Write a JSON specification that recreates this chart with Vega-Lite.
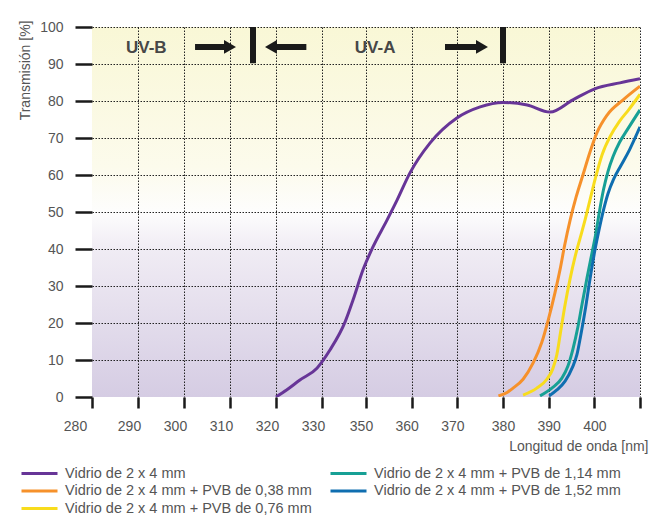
{
  "$schema": "https://vega.github.io/schema/vega-lite/v6.json",
  "width": 548,
  "height": 370,
  "autosize": {"type": "none"},
  "padding": {"left": 92, "top": 27, "right": 13, "bottom": 122},
  "background": "white",
  "view": {
    "stroke": null,
    "fill": {
      "gradient": "linear",
      "x1": 0, "y1": 0, "x2": 0, "y2": 1,
      "stops": [
        {"offset": 0, "color": "#f9f7d6"},
        {"offset": 0.38, "color": "#fcfbec"},
        {"offset": 0.5, "color": "#fdfdfd"},
        {"offset": 0.6, "color": "#f0ecf4"},
        {"offset": 1, "color": "#d5cce3"}
      ]
    }
  },
  "config": {
    "font": "Liberation Sans",
    "axis": {
      "labelFont": "Liberation Sans",
      "labelFontSize": 14,
      "labelColor": "#555555",
      "labelOverlap": false,
      "labelFlush": false,
      "titleFont": "Liberation Sans",
      "titleFontSize": 14,
      "titleFontWeight": "normal",
      "titleColor": "#555555",
      "domain": false,
      "tickColor": "#1a1a1a",
      "tickWidth": 2.5,
      "gridDash": [1.5, 1.5],
      "gridWidth": 1,
      "gridOpacity": 1
    },
    "legend": {
      "labelFont": "Liberation Sans",
      "labelFontSize": 14.5,
      "labelColor": "#555555",
      "labelLimit": 400
    }
  },
  "datasets": {
    "curvas": [
      {"serie": "Vidrio de 2 x 4 mm", "nm": 320, "t": 0},
      {"serie": "Vidrio de 2 x 4 mm", "nm": 322.3, "t": 1.9},
      {"serie": "Vidrio de 2 x 4 mm", "nm": 325.2, "t": 4.6},
      {"serie": "Vidrio de 2 x 4 mm", "nm": 328.9, "t": 7.8},
      {"serie": "Vidrio de 2 x 4 mm", "nm": 333.6, "t": 12.7},
      {"serie": "Vidrio de 2 x 4 mm", "nm": 340.5, "t": 20.3},
      {"serie": "Vidrio de 2 x 4 mm", "nm": 344.1, "t": 26.2},
      {"serie": "Vidrio de 2 x 4 mm", "nm": 348.6, "t": 34.3},
      {"serie": "Vidrio de 2 x 4 mm", "nm": 351.5, "t": 40.5},
      {"serie": "Vidrio de 2 x 4 mm", "nm": 354.6, "t": 47.8},
      {"serie": "Vidrio de 2 x 4 mm", "nm": 356.8, "t": 53.2},
      {"serie": "Vidrio de 2 x 4 mm", "nm": 359.6, "t": 60.5},
      {"serie": "Vidrio de 2 x 4 mm", "nm": 364, "t": 68.6},
      {"serie": "Vidrio de 2 x 4 mm", "nm": 369.9, "t": 75.4},
      {"serie": "Vidrio de 2 x 4 mm", "nm": 375, "t": 78.4},
      {"serie": "Vidrio de 2 x 4 mm", "nm": 380, "t": 79.6},
      {"serie": "Vidrio de 2 x 4 mm", "nm": 385.3, "t": 78.9},
      {"serie": "Vidrio de 2 x 4 mm", "nm": 390.3, "t": 77},
      {"serie": "Vidrio de 2 x 4 mm", "nm": 395.3, "t": 80.3},
      {"serie": "Vidrio de 2 x 4 mm", "nm": 400.1, "t": 83.3},
      {"serie": "Vidrio de 2 x 4 mm", "nm": 405.6, "t": 84.9},
      {"serie": "Vidrio de 2 x 4 mm", "nm": 410, "t": 86},

      {"serie": "Vidrio de 2 x 4 mm + PVB de 0,38 mm", "nm": 379, "t": 0.3},
      {"serie": "Vidrio de 2 x 4 mm + PVB de 0,38 mm", "nm": 381, "t": 1.3},
      {"serie": "Vidrio de 2 x 4 mm + PVB de 0,38 mm", "nm": 382.2, "t": 2.4},
      {"serie": "Vidrio de 2 x 4 mm + PVB de 0,38 mm", "nm": 384.4, "t": 4.8},
      {"serie": "Vidrio de 2 x 4 mm + PVB de 0,38 mm", "nm": 386.6, "t": 9.2},
      {"serie": "Vidrio de 2 x 4 mm + PVB de 0,38 mm", "nm": 388.5, "t": 14.8},
      {"serie": "Vidrio de 2 x 4 mm + PVB de 0,38 mm", "nm": 389.9, "t": 20.8},
      {"serie": "Vidrio de 2 x 4 mm + PVB de 0,38 mm", "nm": 391.4, "t": 28.3},
      {"serie": "Vidrio de 2 x 4 mm + PVB de 0,38 mm", "nm": 392.5, "t": 34.5},
      {"serie": "Vidrio de 2 x 4 mm + PVB de 0,38 mm", "nm": 393.5, "t": 41},
      {"serie": "Vidrio de 2 x 4 mm + PVB de 0,38 mm", "nm": 394.7, "t": 47.8},
      {"serie": "Vidrio de 2 x 4 mm + PVB de 0,38 mm", "nm": 396, "t": 54},
      {"serie": "Vidrio de 2 x 4 mm + PVB de 0,38 mm", "nm": 397.5, "t": 60},
      {"serie": "Vidrio de 2 x 4 mm + PVB de 0,38 mm", "nm": 399, "t": 66},
      {"serie": "Vidrio de 2 x 4 mm + PVB de 0,38 mm", "nm": 400.6, "t": 71.5},
      {"serie": "Vidrio de 2 x 4 mm + PVB de 0,38 mm", "nm": 402.8, "t": 76.2},
      {"serie": "Vidrio de 2 x 4 mm + PVB de 0,38 mm", "nm": 406.3, "t": 80.3},
      {"serie": "Vidrio de 2 x 4 mm + PVB de 0,38 mm", "nm": 410, "t": 84},

      {"serie": "Vidrio de 2 x 4 mm + PVB de 0,76 mm", "nm": 384.4, "t": 0.5},
      {"serie": "Vidrio de 2 x 4 mm + PVB de 0,76 mm", "nm": 387.4, "t": 2.4},
      {"serie": "Vidrio de 2 x 4 mm + PVB de 0,76 mm", "nm": 389.6, "t": 4.8},
      {"serie": "Vidrio de 2 x 4 mm + PVB de 0,76 mm", "nm": 390.9, "t": 7.6},
      {"serie": "Vidrio de 2 x 4 mm + PVB de 0,76 mm", "nm": 391.8, "t": 11.5},
      {"serie": "Vidrio de 2 x 4 mm + PVB de 0,76 mm", "nm": 392.6, "t": 17.5},
      {"serie": "Vidrio de 2 x 4 mm + PVB de 0,76 mm", "nm": 393.6, "t": 25},
      {"serie": "Vidrio de 2 x 4 mm + PVB de 0,76 mm", "nm": 394.7, "t": 32},
      {"serie": "Vidrio de 2 x 4 mm + PVB de 0,76 mm", "nm": 395.8, "t": 38},
      {"serie": "Vidrio de 2 x 4 mm + PVB de 0,76 mm", "nm": 396.9, "t": 43},
      {"serie": "Vidrio de 2 x 4 mm + PVB de 0,76 mm", "nm": 398, "t": 48},
      {"serie": "Vidrio de 2 x 4 mm + PVB de 0,76 mm", "nm": 399, "t": 53},
      {"serie": "Vidrio de 2 x 4 mm + PVB de 0,76 mm", "nm": 400.2, "t": 59},
      {"serie": "Vidrio de 2 x 4 mm + PVB de 0,76 mm", "nm": 401.7, "t": 65.5},
      {"serie": "Vidrio de 2 x 4 mm + PVB de 0,76 mm", "nm": 403.5, "t": 70.5},
      {"serie": "Vidrio de 2 x 4 mm + PVB de 0,76 mm", "nm": 405.5, "t": 74.5},
      {"serie": "Vidrio de 2 x 4 mm + PVB de 0,76 mm", "nm": 407.5, "t": 77.6},
      {"serie": "Vidrio de 2 x 4 mm + PVB de 0,76 mm", "nm": 410, "t": 81.8},

      {"serie": "Vidrio de 2 x 4 mm + PVB de 1,14 mm", "nm": 388.1, "t": 0.3},
      {"serie": "Vidrio de 2 x 4 mm + PVB de 1,14 mm", "nm": 390.7, "t": 2.4},
      {"serie": "Vidrio de 2 x 4 mm + PVB de 1,14 mm", "nm": 392.9, "t": 5.1},
      {"serie": "Vidrio de 2 x 4 mm + PVB de 1,14 mm", "nm": 394.2, "t": 8.3},
      {"serie": "Vidrio de 2 x 4 mm + PVB de 1,14 mm", "nm": 395.3, "t": 12.9},
      {"serie": "Vidrio de 2 x 4 mm + PVB de 1,14 mm", "nm": 396.4, "t": 18.9},
      {"serie": "Vidrio de 2 x 4 mm + PVB de 1,14 mm", "nm": 397.3, "t": 25},
      {"serie": "Vidrio de 2 x 4 mm + PVB de 1,14 mm", "nm": 398.4, "t": 32.2},
      {"serie": "Vidrio de 2 x 4 mm + PVB de 1,14 mm", "nm": 399.5, "t": 39},
      {"serie": "Vidrio de 2 x 4 mm + PVB de 1,14 mm", "nm": 400.3, "t": 44},
      {"serie": "Vidrio de 2 x 4 mm + PVB de 1,14 mm", "nm": 401.1, "t": 50},
      {"serie": "Vidrio de 2 x 4 mm + PVB de 1,14 mm", "nm": 402, "t": 56},
      {"serie": "Vidrio de 2 x 4 mm + PVB de 1,14 mm", "nm": 403, "t": 61},
      {"serie": "Vidrio de 2 x 4 mm + PVB de 1,14 mm", "nm": 404.1, "t": 65},
      {"serie": "Vidrio de 2 x 4 mm + PVB de 1,14 mm", "nm": 405.5, "t": 68.8},
      {"serie": "Vidrio de 2 x 4 mm + PVB de 1,14 mm", "nm": 407.2, "t": 72.2},
      {"serie": "Vidrio de 2 x 4 mm + PVB de 1,14 mm", "nm": 410, "t": 77.6},

      {"serie": "Vidrio de 2 x 4 mm + PVB de 1,52 mm", "nm": 390.1, "t": 0.3},
      {"serie": "Vidrio de 2 x 4 mm + PVB de 1,52 mm", "nm": 391.8, "t": 1.9},
      {"serie": "Vidrio de 2 x 4 mm + PVB de 1,52 mm", "nm": 393.6, "t": 4.3},
      {"serie": "Vidrio de 2 x 4 mm + PVB de 1,52 mm", "nm": 395.2, "t": 8},
      {"serie": "Vidrio de 2 x 4 mm + PVB de 1,52 mm", "nm": 396.2, "t": 11.5},
      {"serie": "Vidrio de 2 x 4 mm + PVB de 1,52 mm", "nm": 397, "t": 16.5},
      {"serie": "Vidrio de 2 x 4 mm + PVB de 1,52 mm", "nm": 398, "t": 23.5},
      {"serie": "Vidrio de 2 x 4 mm + PVB de 1,52 mm", "nm": 399, "t": 31.5},
      {"serie": "Vidrio de 2 x 4 mm + PVB de 1,52 mm", "nm": 400.1, "t": 39.5},
      {"serie": "Vidrio de 2 x 4 mm + PVB de 1,52 mm", "nm": 401, "t": 45},
      {"serie": "Vidrio de 2 x 4 mm + PVB de 1,52 mm", "nm": 402, "t": 50.5},
      {"serie": "Vidrio de 2 x 4 mm + PVB de 1,52 mm", "nm": 403, "t": 55},
      {"serie": "Vidrio de 2 x 4 mm + PVB de 1,52 mm", "nm": 404.2, "t": 58.8},
      {"serie": "Vidrio de 2 x 4 mm + PVB de 1,52 mm", "nm": 405.8, "t": 62.5},
      {"serie": "Vidrio de 2 x 4 mm + PVB de 1,52 mm", "nm": 407.7, "t": 66.8},
      {"serie": "Vidrio de 2 x 4 mm + PVB de 1,52 mm", "nm": 410, "t": 73}
    ],
    "textos": [
      {"nm": 291.8, "t": 94.4, "texto": "UV-B"},
      {"nm": 352, "t": 94.4, "texto": "UV-A"}
    ],
    "limites": [
      {"nm": 315, "t": 90.2, "t2": 100},
      {"nm": 380, "t": 90.2, "t2": 100}
    ],
    "flechas": [
      {"nm": 302.4, "nm2": 309.2, "t": 94.6},
      {"nm": 319.8, "nm2": 326.6, "t": 94.6},
      {"nm": 367.3, "nm2": 374.4, "t": 94.6}
    ],
    "puntas": [
      {"nm": 310.0, "t": 94.6, "forma": "triangle-right"},
      {"nm": 318.9, "t": 94.6, "forma": "triangle-left"},
      {"nm": 375.4, "t": 94.6, "forma": "triangle-right"}
    ]
  },
  "encoding": {
    "x": {
      "field": "nm",
      "type": "quantitative",
      "scale": {"type": "linear", "domain": [280, 330, 350, 410], "range": [0, 230, 274, 548], "nice": false, "zero": false},
      "axis": {
        "values": [280, 290, 300, 310, 320, 330, 350, 360, 370, 380, 390, 400, 410],
        "labelExpr": "datum.value == 410 ? '' : datum.label",
        "labelOverlap": false,
        "labelFlush": false,
        "tickSize": 11,
        "labelPadding": 11,
        "labelOffset": {
          "condition": [
            {"test": "datum.value == 280", "value": -17},
            {"test": "datum.value <= 330", "value": -9},
            {"test": "datum.value < 380", "value": -5}
          ],
          "value": 0
        },
        "title": "Longitud de onda [nm]",
        "titleX": 556,
        "titleY": 53,
        "titleAlign": "right",
        "titleAnchor": null,
        "titleBaseline": "alphabetic",
        "gridColor": {"condition": {"test": "datum.value == 280", "value": "transparent"}, "value": "#222222"}
      }
    },
    "y": {
      "field": "t",
      "type": "quantitative",
      "scale": {"domain": [0, 100], "nice": false},
      "axis": {
        "values": [0, 10, 20, 30, 40, 50, 60, 70, 80, 90, 100],
        "labelOverlap": false,
        "labelFlush": false,
        "tickSize": 17,
        "labelPadding": 12,
        "title": "Transmisión [%]",
        "titleAngle": 270,
        "titleX": -63,
        "titleY": -7,
        "titleAlign": "right",
        "titleAnchor": null,
        "titleBaseline": "alphabetic",
        "gridColor": {"condition": {"test": "datum.value == 0", "value": "transparent"}, "value": "#222222"}
      }
    }
  },
  "layer": [
    {
      "data": {"name": "curvas"},
      "mark": {"type": "line", "strokeWidth": 3, "interpolate": "monotone", "clip": true},
      "encoding": {
        "color": {
          "field": "serie",
          "type": "nominal",
          "scale": {
            "domain": [
              "Vidrio de 2 x 4 mm",
              "Vidrio de 2 x 4 mm + PVB de 0,38 mm",
              "Vidrio de 2 x 4 mm + PVB de 0,76 mm",
              "Vidrio de 2 x 4 mm + PVB de 1,14 mm",
              "Vidrio de 2 x 4 mm + PVB de 1,52 mm"
            ],
            "range": ["#673597", "#f6912b", "#f8dc1c", "#17a095", "#0f6eb0"]
          },
          "legend": {
            "title": null,
            "orient": "none",
            "direction": "vertical",
            "legendX": -60,
            "legendY": 439,
            "columns": 2,
            "columnPadding": 12,
            "rowPadding": 2.5,
            "padding": 0,
            "symbolType": "M-3,0H3",
            "symbolSize": 144,
            "symbolStrokeWidth": 3,
            "labelOffset": 18
          }
        }
      }
    },
    {
      "data": {"name": "textos"},
      "mark": {"type": "text", "font": "Liberation Sans", "fontWeight": "bold", "fontSize": 17, "color": "#474747", "align": "center", "baseline": "middle"},
      "encoding": {
        "text": {"field": "texto"}
      }
    },
    {
      "data": {"name": "limites"},
      "mark": {"type": "rule", "strokeWidth": 6, "color": "#1a1a1a"},
      "encoding": {
        "y2": {"field": "t2"}
      }
    },
    {
      "data": {"name": "flechas"},
      "mark": {"type": "rule", "strokeWidth": 6, "color": "#1a1a1a"},
      "encoding": {
        "x2": {"field": "nm2"}
      }
    },
    {
      "data": {"name": "puntas"},
      "mark": {"type": "point", "filled": true, "size": 190, "color": "#1a1a1a", "opacity": 1},
      "encoding": {
        "shape": {"field": "forma", "type": "nominal", "scale": null, "legend": null}
      }
    }
  ]
}
